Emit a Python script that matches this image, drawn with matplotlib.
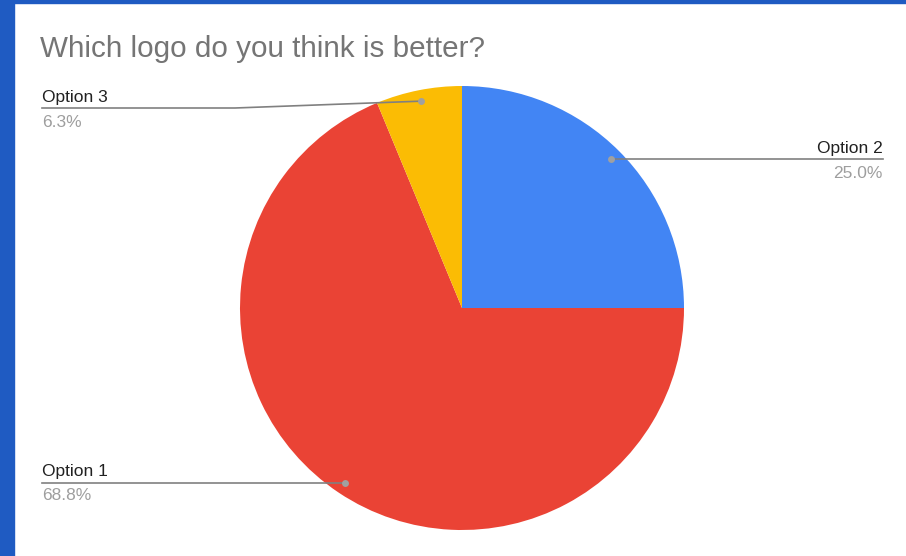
import matplotlib.pyplot as plt
from matplotlib.patches import Rectangle
import numpy as np

plt.rcParams['font.family'] = ['Liberation Sans', 'DejaVu Sans']

# datos del grafico (orden horario desde las 12)
labels = ["Option 2", "Option 1", "Option 3"]
values = [4, 11, 1]
colors = ["#4285f4", "#ea4335", "#fbbc04"]
title = "Which logo do you think is better?"

W, H = 906, 556
fig = plt.figure(figsize=(W / 100, H / 100), dpi=100)
ax = fig.add_axes([0, 0, 1, 1])

# borde azul de la captura
fig.patches.append(Rectangle((0, 0), 14 / W, 1, transform=fig.transFigure, color="#1f5bc2", zorder=0))
fig.patches.append(Rectangle((0, 1 - 3 / H), 1, 3 / H, transform=fig.transFigure, color="#1f5bc2", zorder=0))

cx, cy, r = 462, 308, 222
# con el eje y invertido, angulo creciente = sentido horario en pantalla
wedges, _ = ax.pie(values, colors=colors, startangle=-90, counterclock=True,
                   center=(cx, cy), radius=r, frame=True,
                   wedgeprops=dict(linewidth=0))
ax.set_xlim(0, W)
ax.set_ylim(H, 0)
ax.set_aspect('equal')
ax.axis('off')

total = sum(values)
# redondeo "hacia arriba" como en Google Sheets (6.25 -> 6.3)
pct = [f"{np.floor(1000 * v / total + 0.5) / 10:.1f}%" for v in values]

# puntos de anclaje en el angulo medio de cada porcion
anchors = []
for w in wedges:
    th = np.deg2rad((w.theta1 + w.theta2) / 2)
    anchors.append((cx + 0.95 * r * np.cos(th), cy + 0.95 * r * np.sin(th)))

line_c = "#808080"
dot_c = "#a0a0a0"
txt_c = "#212121"
pct_c = "#9e9e9e"
fs = 12.5

# Option 2 (derecha)
ax0, ay0 = anchors[0]
ax.plot([ax0, 883], [ay0, ay0], color=line_c, lw=1.2, zorder=3)
ax.text(883, ay0 - 6, labels[0], ha='right', va='baseline', fontsize=fs, color=txt_c)
ax.text(883, ay0 + 19, pct[0], ha='right', va='baseline', fontsize=fs, color=pct_c)

# Option 1 (izquierda abajo)
ax1, ay1 = anchors[1]
ax.plot([ax1, 42], [ay1, ay1], color=line_c, lw=1.2, zorder=3)
ax.text(42, ay1 - 7, labels[1], ha='left', va='baseline', fontsize=fs, color=txt_c)
ax.text(42, ay1 + 17, pct[1], ha='left', va='baseline', fontsize=fs, color=pct_c)

# Option 3 (izquierda arriba)
ax2, ay2 = anchors[2]
ax.plot([ax2, 235, 42], [ay2, 108, 108], color=line_c, lw=1.2, zorder=3)
ax.text(42, 102, labels[2], ha='left', va='baseline', fontsize=fs, color=txt_c)
ax.text(42, 127, pct[2], ha='left', va='baseline', fontsize=fs, color=pct_c)

for x, y in anchors:
    ax.plot(x, y, 'o', ms=5, color=dot_c, mec='none', zorder=4)

ax.text(40, 57, title, ha='left', va='baseline', fontsize=21.3, color="#757575")

fig.savefig("out.png", dpi=100)
